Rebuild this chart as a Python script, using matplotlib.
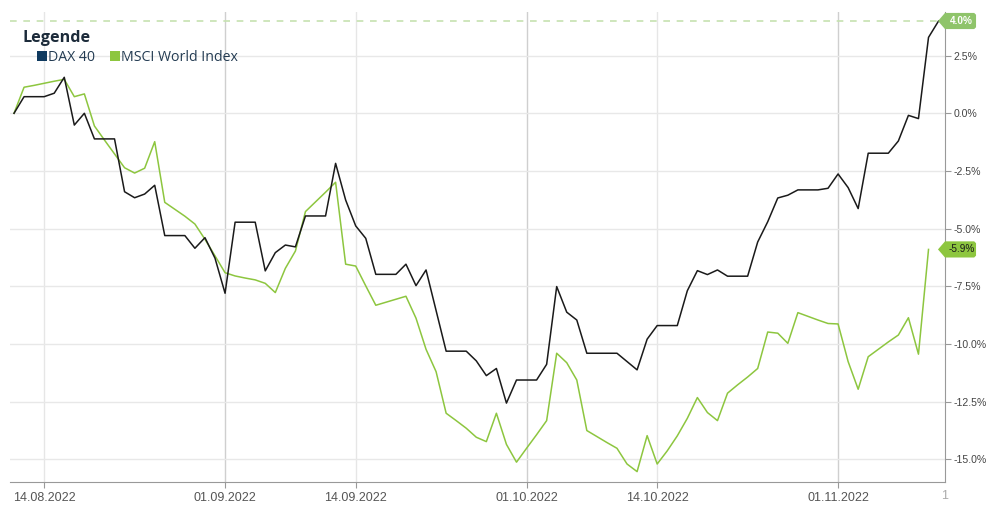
import numpy as np
import pandas as pd
import matplotlib
matplotlib.use("Agg")
import matplotlib.pyplot as plt
import matplotlib.dates as mdates
import matplotlib.transforms as mtransforms
from matplotlib.patches import Polygon, Rectangle

# daily values in %, starting 11.08.2022
start_date = "2022-08-11"
dax = [0.0, 0.72, 0.72, 0.72, 0.87, 1.56, -0.51, 0.0, -1.11, -1.11,
       -1.11, -3.40, -3.66, -3.50, -3.12, -5.30, -5.30, -5.30, -5.85, -5.39,
       -6.28, -7.80, -4.72, -4.72, -4.72, -6.83, -6.04, -5.71, -5.79, -4.45,
       -4.45, -4.45, -2.17, -3.76, -4.88, -5.42, -6.98, -6.98, -6.98, -6.54,
       -7.47, -6.79, -8.55, -10.31, -10.31, -10.31, -10.73, -11.37, -11.06, -12.56,
       -11.56, -11.56, -11.56, -10.88, -7.51, -8.62, -8.96, -10.40, -10.40, -10.40,
       -10.40, -10.76, -11.12, -9.79, -9.20, -9.20, -9.20, -7.69, -6.82, -6.99,
       -6.79, -7.06, -7.06, -7.06, -5.58, -4.70, -3.67, -3.55, -3.32, -3.32,
       -3.32, -3.25, -2.63, -3.22, -4.13, -1.73, -1.73, -1.73, -1.20, -0.09,
       -0.23, 3.29, 4.0]
msci = [0.0, 1.13, 1.21, 1.30, 1.39, 1.47, 0.72, 0.84, -0.55, -1.16,
        -1.76, -2.36, -2.59, -2.38, -1.23, -3.86, -4.16, -4.46, -4.80, -5.46,
        -6.18, -6.91, -7.05, -7.14, -7.22, -7.37, -7.77, -6.72, -5.97, -4.26,
        -3.84, -3.42, -2.99, -6.54, -6.62, -7.48, -8.32, -8.19, -8.06, -7.93,
        -8.88, -10.23, -11.20, -13.00, -13.32, -13.65, -14.04, -14.23, -13.00, -14.35,
        -15.12, -14.52, -13.93, -13.32, -10.40, -10.81, -11.56, -13.75, -14.01, -14.27,
        -14.52, -15.20, -15.53, -13.97, -15.20, -14.63, -13.98, -13.22, -12.32, -12.97,
        -13.32, -12.13, -11.77, -11.43, -11.06, -9.48, -9.53, -9.97, -8.64, -8.80,
        -8.96, -9.11, -9.13, -10.76, -11.96, -10.55, -10.23, -9.91, -9.61, -8.86,
        -10.44, -5.9]
tick_dates = ["2022-08-14", "2022-09-01", "2022-09-14", "2022-10-01", "2022-10-14", "2022-11-01"]
y_ticks = [-15.0, -12.5, -10.0, -7.5, -5.0, -2.5, 0.0, 2.5]
series_names = ["DAX 40", "MSCI World Index"]

DAX_COLOR = "#1a1a1a"
MSCI_COLOR = "#8dc63f"
DAX_LEGEND = "#0f3a5f"

dates_dax = pd.date_range(start_date, periods=len(dax))
dates_msci = pd.date_range(start_date, periods=len(msci))
x0 = mdates.date2num(pd.Timestamp(start_date))

fig = plt.figure(figsize=(10.02, 5.07), dpi=100)
ax = fig.add_axes([10 / 1002, 25 / 507, 935 / 1002, 470 / 507])

ax.set_xlim(x0 - 0.4, x0 + 92.64)
ax.set_ylim(-15.98, 4.39)

# grid
for td in tick_dates:
    t = pd.Timestamp(td)
    ax.axvline(mdates.date2num(t), color="#cfcfcf" if t.day == 1 else "#e6e6e6", lw=1, zorder=0)
for yv in y_ticks:
    ax.axhline(yv, color="#e8e8e8", lw=1, zorder=0)

ax.plot(dates_msci, msci, color=MSCI_COLOR, lw=1.1, zorder=3)
ax.plot(dates_dax, dax, color=DAX_COLOR, lw=1.1, zorder=4)

# dashed line at latest DAX value
ax.axhline(dax[-1], color="#c6e2b0", lw=1.2, ls=(0, (4, 4)), zorder=1)

ax.set_xticks([mdates.date2num(pd.Timestamp(t)) for t in tick_dates])
ax.set_xticklabels([pd.Timestamp(t).strftime("%d.%m.%Y") for t in tick_dates],
                   fontfamily="Liberation Sans", fontsize=9, color="#555555")
ax.tick_params(axis="x", length=4, color="#999999", pad=3)

ax.yaxis.tick_right()
ax.set_yticks(y_ticks)
ax.set_yticklabels([f"{v:.1f}%" for v in y_ticks], fontfamily="Liberation Sans",
                   fontsize=7.6, color="#444444")
ax.tick_params(axis="y", length=4, color="#999999", pad=2)

for s in ["top", "left"]:
    ax.spines[s].set_visible(False)
for s in ["right", "bottom"]:
    ax.spines[s].set_color("#999999")

ax.text(1.0, -14 / 470, "1", transform=ax.transAxes, ha="center", va="center",
        fontfamily="Liberation Sans", fontsize=9, color="#aaaaaa")


def add_tag(yval, label, face, tcolor, bold):
    tr = mtransforms.blended_transform_factory(ax.transAxes, ax.transData)
    h = 0.35
    r = 0.08
    tip, body0, body1 = 0.9925, 1.0, 1.0332
    pts = [(tip, yval), (body0, yval + h), (body1 - 0.002, yval + h), (body1, yval + h - r),
           (body1, yval - h + r), (body1 - 0.002, yval - h), (body0, yval - h)]
    ax.add_patch(Polygon(pts, closed=True, transform=tr, facecolor=face, edgecolor="none",
                         clip_on=False, zorder=6))
    ax.text((body0 + body1) / 2 + 0.001, yval, label, transform=tr, ha="center", va="center",
            fontfamily="Liberation Sans", fontsize=7.2, color=tcolor,
            fontweight="bold" if bold else "normal", zorder=7, clip_on=False)


add_tag(dax[-1], f"{dax[-1]:.1f}%", "#8fc46a", "white", True)
add_tag(msci[-1], f"{msci[-1]:.1f}%", MSCI_COLOR, "#1a1a1a", False)

# legend
fig.text(23 / 1002, 1 - 42 / 507, "Legende", fontfamily="Open Sans", fontweight="bold",
         fontsize=11.6, color="#1c2b3a", ha="left", va="baseline")
for xs, name, col in [(37, series_names[0], DAX_LEGEND), (110, series_names[1], MSCI_COLOR)]:
    fig.patches.append(Rectangle((xs / 1002, 1 - 61 / 507), 10 / 1002, 10 / 507,
                                 transform=fig.transFigure, facecolor=col, edgecolor="none"))
    fig.text((xs + 11) / 1002, 1 - 61 / 507, name, fontfamily="Open Sans", fontsize=10.2,
             color="#233b52", ha="left", va="baseline")

fig.savefig("out.png", dpi=100)
